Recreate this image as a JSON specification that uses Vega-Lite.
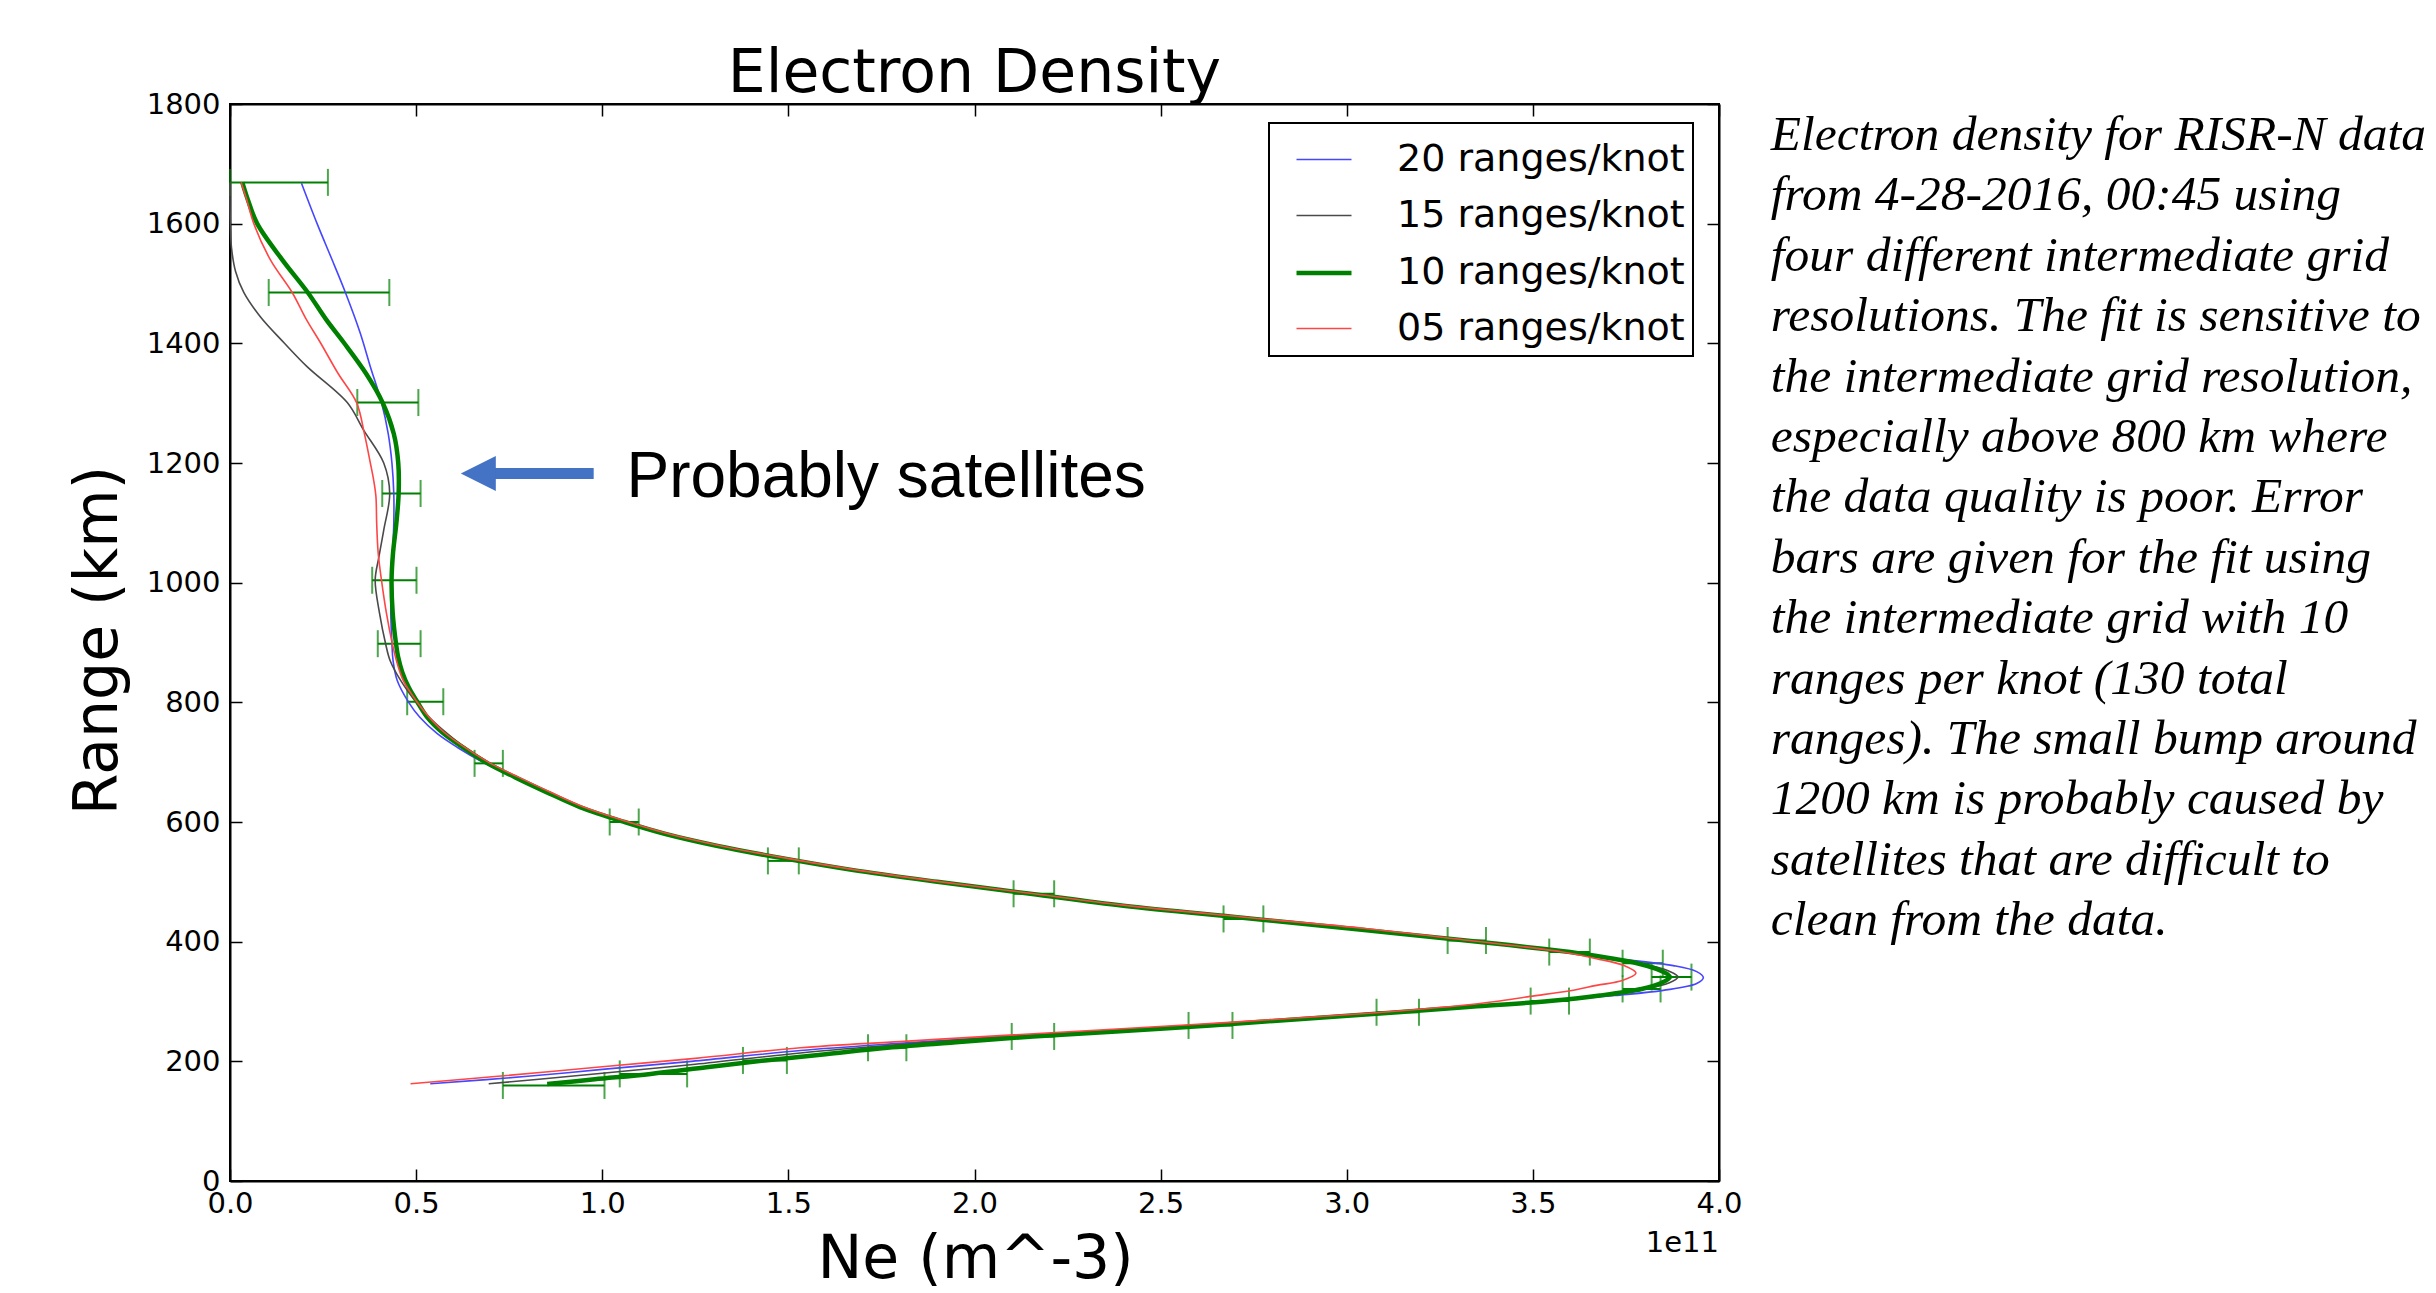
{
  "$schema": "https://vega.github.io/schema/vega-lite/v6.json",
  "width": 1489,
  "height": 1077,
  "autosize": {"type": "none"},
  "padding": {"left": 230, "top": 104, "right": 717, "bottom": 112},
  "background": "white",
  "title": {"text": "Electron Density", "font": "DejaVu Sans", "fontSize": 60, "fontWeight": "normal", "color": "black", "anchor": "middle", "baseline": "alphabetic", "offset": 13, "dy": 75},
  "config": {
    "view": {"stroke": "black", "strokeWidth": 2},
    "axis": {"domainColor": "black", "domainWidth": 2, "tickColor": "black", "tickWidth": 1.5, "tickSize": -12, "labelFont": "DejaVu Sans", "labelFontSize": 29, "labelColor": "black", "grid": false, "titleFont": "DejaVu Sans", "titleFontSize": 60, "titleFontWeight": "normal", "titleColor": "black", "labelFlush": false, "labelOverlap": false},
    "legend": {"strokeWidth": 2}
  },
  "datasets": {
    "errbars": [
      {"range": 159.7, "lo": 0.733, "hi": 1.006},
      {"range": 179, "lo": 1.047, "hi": 1.228},
      {"range": 201.5, "lo": 1.378, "hi": 1.496},
      {"range": 222.7, "lo": 1.714, "hi": 1.817},
      {"range": 241.6, "lo": 2.1, "hi": 2.214},
      {"range": 260, "lo": 2.575, "hi": 2.693},
      {"range": 282, "lo": 3.08, "hi": 3.194},
      {"range": 300.7, "lo": 3.494, "hi": 3.597},
      {"range": 321, "lo": 3.741, "hi": 3.843},
      {"range": 340.8, "lo": 3.819, "hi": 3.926},
      {"range": 364, "lo": 3.741, "hi": 3.849},
      {"range": 382.6, "lo": 3.544, "hi": 3.653},
      {"range": 402, "lo": 3.271, "hi": 3.374},
      {"range": 438, "lo": 2.669, "hi": 2.776},
      {"range": 480, "lo": 2.105, "hi": 2.214},
      {"range": 535, "lo": 1.445, "hi": 1.528},
      {"range": 600, "lo": 1.02, "hi": 1.098},
      {"range": 698, "lo": 0.657, "hi": 0.733},
      {"range": 801, "lo": 0.476, "hi": 0.573},
      {"range": 898, "lo": 0.397, "hi": 0.512},
      {"range": 1004, "lo": 0.382, "hi": 0.501},
      {"range": 1149, "lo": 0.409, "hi": 0.512},
      {"range": 1301, "lo": 0.342, "hi": 0.506},
      {"range": 1485, "lo": 0.104, "hi": 0.428},
      {"range": 1669, "lo": 0.0, "hi": 0.263}
    ],
    "profiles": [
      {"series": "20 ranges/knot", "range": 162.5, "ne": 0.538},
      {"series": "20 ranges/knot", "range": 175, "ne": 0.8},
      {"series": "20 ranges/knot", "range": 186.5, "ne": 1.0},
      {"series": "20 ranges/knot", "range": 200, "ne": 1.24},
      {"series": "20 ranges/knot", "range": 218, "ne": 1.532},
      {"series": "20 ranges/knot", "range": 230, "ne": 1.8},
      {"series": "20 ranges/knot", "range": 242, "ne": 2.1},
      {"series": "20 ranges/knot", "range": 260, "ne": 2.6},
      {"series": "20 ranges/knot", "range": 282, "ne": 3.1},
      {"series": "20 ranges/knot", "range": 300.7, "ne": 3.55},
      {"series": "20 ranges/knot", "range": 310, "ne": 3.72},
      {"series": "20 ranges/knot", "range": 318.6, "ne": 3.85},
      {"series": "20 ranges/knot", "range": 330, "ne": 3.94},
      {"series": "20 ranges/knot", "range": 340, "ne": 3.958},
      {"series": "20 ranges/knot", "range": 350, "ne": 3.94},
      {"series": "20 ranges/knot", "range": 360, "ne": 3.877},
      {"series": "20 ranges/knot", "range": 373, "ne": 3.7},
      {"series": "20 ranges/knot", "range": 382.6, "ne": 3.58},
      {"series": "20 ranges/knot", "range": 392, "ne": 3.46},
      {"series": "20 ranges/knot", "range": 402, "ne": 3.32},
      {"series": "20 ranges/knot", "range": 420, "ne": 3.04},
      {"series": "20 ranges/knot", "range": 440, "ne": 2.72},
      {"series": "20 ranges/knot", "range": 460, "ne": 2.4},
      {"series": "20 ranges/knot", "range": 480, "ne": 2.15},
      {"series": "20 ranges/knot", "range": 500, "ne": 1.9},
      {"series": "20 ranges/knot", "range": 520, "ne": 1.67},
      {"series": "20 ranges/knot", "range": 540, "ne": 1.48},
      {"series": "20 ranges/knot", "range": 560, "ne": 1.31},
      {"series": "20 ranges/knot", "range": 580, "ne": 1.17},
      {"series": "20 ranges/knot", "range": 600, "ne": 1.06},
      {"series": "20 ranges/knot", "range": 625, "ne": 0.94},
      {"series": "20 ranges/knot", "range": 650, "ne": 0.845},
      {"series": "20 ranges/knot", "range": 675, "ne": 0.76},
      {"series": "20 ranges/knot", "range": 698, "ne": 0.685},
      {"series": "20 ranges/knot", "range": 725, "ne": 0.61},
      {"series": "20 ranges/knot", "range": 748, "ne": 0.556},
      {"series": "20 ranges/knot", "range": 775, "ne": 0.51},
      {"series": "20 ranges/knot", "range": 800, "ne": 0.48},
      {"series": "20 ranges/knot", "range": 837, "ne": 0.449},
      {"series": "20 ranges/knot", "range": 870, "ne": 0.438},
      {"series": "20 ranges/knot", "range": 898, "ne": 0.435},
      {"series": "20 ranges/knot", "range": 950, "ne": 0.432},
      {"series": "20 ranges/knot", "range": 1004, "ne": 0.434},
      {"series": "20 ranges/knot", "range": 1050, "ne": 0.437},
      {"series": "20 ranges/knot", "range": 1100, "ne": 0.44},
      {"series": "20 ranges/knot", "range": 1149, "ne": 0.44},
      {"series": "20 ranges/knot", "range": 1200, "ne": 0.435},
      {"series": "20 ranges/knot", "range": 1249, "ne": 0.425},
      {"series": "20 ranges/knot", "range": 1301, "ne": 0.407},
      {"series": "20 ranges/knot", "range": 1361, "ne": 0.377},
      {"series": "20 ranges/knot", "range": 1417, "ne": 0.35},
      {"series": "20 ranges/knot", "range": 1485, "ne": 0.31},
      {"series": "20 ranges/knot", "range": 1540, "ne": 0.274},
      {"series": "20 ranges/knot", "range": 1600, "ne": 0.234},
      {"series": "20 ranges/knot", "range": 1667.5, "ne": 0.192},

      {"series": "15 ranges/knot", "range": 162.5, "ne": 0.695},
      {"series": "15 ranges/knot", "range": 170, "ne": 0.83},
      {"series": "15 ranges/knot", "range": 180, "ne": 1.0},
      {"series": "15 ranges/knot", "range": 195, "ne": 1.25},
      {"series": "15 ranges/knot", "range": 214, "ne": 1.532},
      {"series": "15 ranges/knot", "range": 228, "ne": 1.8},
      {"series": "15 ranges/knot", "range": 241, "ne": 2.069},
      {"series": "15 ranges/knot", "range": 260, "ne": 2.62},
      {"series": "15 ranges/knot", "range": 282, "ne": 3.13},
      {"series": "15 ranges/knot", "range": 300.7, "ne": 3.545},
      {"series": "15 ranges/knot", "range": 310, "ne": 3.68},
      {"series": "15 ranges/knot", "range": 321, "ne": 3.8},
      {"series": "15 ranges/knot", "range": 331, "ne": 3.865},
      {"series": "15 ranges/knot", "range": 341, "ne": 3.89},
      {"series": "15 ranges/knot", "range": 351, "ne": 3.865},
      {"series": "15 ranges/knot", "range": 364, "ne": 3.79},
      {"series": "15 ranges/knot", "range": 373, "ne": 3.7},
      {"series": "15 ranges/knot", "range": 382.6, "ne": 3.6},
      {"series": "15 ranges/knot", "range": 392, "ne": 3.47},
      {"series": "15 ranges/knot", "range": 402, "ne": 3.32},
      {"series": "15 ranges/knot", "range": 420, "ne": 3.04},
      {"series": "15 ranges/knot", "range": 440, "ne": 2.72},
      {"series": "15 ranges/knot", "range": 460, "ne": 2.4},
      {"series": "15 ranges/knot", "range": 480, "ne": 2.15},
      {"series": "15 ranges/knot", "range": 500, "ne": 1.9},
      {"series": "15 ranges/knot", "range": 520, "ne": 1.67},
      {"series": "15 ranges/knot", "range": 540, "ne": 1.48},
      {"series": "15 ranges/knot", "range": 560, "ne": 1.31},
      {"series": "15 ranges/knot", "range": 580, "ne": 1.17},
      {"series": "15 ranges/knot", "range": 600, "ne": 1.065},
      {"series": "15 ranges/knot", "range": 625, "ne": 0.945},
      {"series": "15 ranges/knot", "range": 650, "ne": 0.85},
      {"series": "15 ranges/knot", "range": 675, "ne": 0.77},
      {"series": "15 ranges/knot", "range": 698, "ne": 0.7},
      {"series": "15 ranges/knot", "range": 725, "ne": 0.63},
      {"series": "15 ranges/knot", "range": 748, "ne": 0.583},
      {"series": "15 ranges/knot", "range": 775, "ne": 0.535},
      {"series": "15 ranges/knot", "range": 800, "ne": 0.5},
      {"series": "15 ranges/knot", "range": 837, "ne": 0.458},
      {"series": "15 ranges/knot", "range": 870, "ne": 0.43},
      {"series": "15 ranges/knot", "range": 898, "ne": 0.418},
      {"series": "15 ranges/knot", "range": 948, "ne": 0.402},
      {"series": "15 ranges/knot", "range": 1004, "ne": 0.39},
      {"series": "15 ranges/knot", "range": 1043, "ne": 0.4},
      {"series": "15 ranges/knot", "range": 1088, "ne": 0.413},
      {"series": "15 ranges/knot", "range": 1149, "ne": 0.429},
      {"series": "15 ranges/knot", "range": 1200, "ne": 0.413},
      {"series": "15 ranges/knot", "range": 1255, "ne": 0.359},
      {"series": "15 ranges/knot", "range": 1301, "ne": 0.315},
      {"series": "15 ranges/knot", "range": 1361, "ne": 0.207},
      {"series": "15 ranges/knot", "range": 1401, "ne": 0.145},
      {"series": "15 ranges/knot", "range": 1444, "ne": 0.082},
      {"series": "15 ranges/knot", "range": 1485, "ne": 0.037},
      {"series": "15 ranges/knot", "range": 1520, "ne": 0.015},
      {"series": "15 ranges/knot", "range": 1560, "ne": 0.004},
      {"series": "15 ranges/knot", "range": 1600, "ne": 0.001},
      {"series": "15 ranges/knot", "range": 1669, "ne": 0.0},

      {"series": "10 ranges/knot", "range": 162, "ne": 0.852},
      {"series": "10 ranges/knot", "range": 170, "ne": 0.98},
      {"series": "10 ranges/knot", "range": 179, "ne": 1.13},
      {"series": "10 ranges/knot", "range": 190, "ne": 1.28},
      {"series": "10 ranges/knot", "range": 201.5, "ne": 1.437},
      {"series": "10 ranges/knot", "range": 212, "ne": 1.6},
      {"series": "10 ranges/knot", "range": 222.7, "ne": 1.766},
      {"series": "10 ranges/knot", "range": 232, "ne": 1.95},
      {"series": "10 ranges/knot", "range": 241.6, "ne": 2.157},
      {"series": "10 ranges/knot", "range": 250, "ne": 2.38},
      {"series": "10 ranges/knot", "range": 260, "ne": 2.634},
      {"series": "10 ranges/knot", "range": 270, "ne": 2.86},
      {"series": "10 ranges/knot", "range": 282, "ne": 3.137},
      {"series": "10 ranges/knot", "range": 292, "ne": 3.35},
      {"series": "10 ranges/knot", "range": 300.7, "ne": 3.545},
      {"series": "10 ranges/knot", "range": 310, "ne": 3.68},
      {"series": "10 ranges/knot", "range": 321, "ne": 3.792},
      {"series": "10 ranges/knot", "range": 331, "ne": 3.845},
      {"series": "10 ranges/knot", "range": 341, "ne": 3.868},
      {"series": "10 ranges/knot", "range": 351, "ne": 3.845},
      {"series": "10 ranges/knot", "range": 364, "ne": 3.78},
      {"series": "10 ranges/knot", "range": 373, "ne": 3.7},
      {"series": "10 ranges/knot", "range": 382.6, "ne": 3.6},
      {"series": "10 ranges/knot", "range": 392, "ne": 3.47},
      {"series": "10 ranges/knot", "range": 402, "ne": 3.32},
      {"series": "10 ranges/knot", "range": 420, "ne": 3.04},
      {"series": "10 ranges/knot", "range": 440, "ne": 2.72},
      {"series": "10 ranges/knot", "range": 460, "ne": 2.4},
      {"series": "10 ranges/knot", "range": 480, "ne": 2.15},
      {"series": "10 ranges/knot", "range": 500, "ne": 1.9},
      {"series": "10 ranges/knot", "range": 520, "ne": 1.67},
      {"series": "10 ranges/knot", "range": 540, "ne": 1.48},
      {"series": "10 ranges/knot", "range": 560, "ne": 1.31},
      {"series": "10 ranges/knot", "range": 580, "ne": 1.17},
      {"series": "10 ranges/knot", "range": 600, "ne": 1.06},
      {"series": "10 ranges/knot", "range": 625, "ne": 0.94},
      {"series": "10 ranges/knot", "range": 650, "ne": 0.85},
      {"series": "10 ranges/knot", "range": 675, "ne": 0.765},
      {"series": "10 ranges/knot", "range": 698, "ne": 0.692},
      {"series": "10 ranges/knot", "range": 725, "ne": 0.625},
      {"series": "10 ranges/knot", "range": 750, "ne": 0.57},
      {"series": "10 ranges/knot", "range": 775, "ne": 0.53},
      {"series": "10 ranges/knot", "range": 801, "ne": 0.503},
      {"series": "10 ranges/knot", "range": 825, "ne": 0.48},
      {"series": "10 ranges/knot", "range": 850, "ne": 0.463},
      {"series": "10 ranges/knot", "range": 875, "ne": 0.452},
      {"series": "10 ranges/knot", "range": 898, "ne": 0.446},
      {"series": "10 ranges/knot", "range": 950, "ne": 0.437},
      {"series": "10 ranges/knot", "range": 1004, "ne": 0.434},
      {"series": "10 ranges/knot", "range": 1050, "ne": 0.438},
      {"series": "10 ranges/knot", "range": 1100, "ne": 0.447},
      {"series": "10 ranges/knot", "range": 1149, "ne": 0.453},
      {"series": "10 ranges/knot", "range": 1200, "ne": 0.452},
      {"series": "10 ranges/knot", "range": 1249, "ne": 0.44},
      {"series": "10 ranges/knot", "range": 1301, "ne": 0.41},
      {"series": "10 ranges/knot", "range": 1350, "ne": 0.365},
      {"series": "10 ranges/knot", "range": 1401, "ne": 0.306},
      {"series": "10 ranges/knot", "range": 1440, "ne": 0.258},
      {"series": "10 ranges/knot", "range": 1485, "ne": 0.209},
      {"series": "10 ranges/knot", "range": 1540, "ne": 0.14},
      {"series": "10 ranges/knot", "range": 1600, "ne": 0.073},
      {"series": "10 ranges/knot", "range": 1640, "ne": 0.048},
      {"series": "10 ranges/knot", "range": 1669, "ne": 0.033},

      {"series": "05 ranges/knot", "range": 162.5, "ne": 0.485},
      {"series": "05 ranges/knot", "range": 175, "ne": 0.72},
      {"series": "05 ranges/knot", "range": 191, "ne": 1.0},
      {"series": "05 ranges/knot", "range": 205, "ne": 1.25},
      {"series": "05 ranges/knot", "range": 222.7, "ne": 1.532},
      {"series": "05 ranges/knot", "range": 233, "ne": 1.8},
      {"series": "05 ranges/knot", "range": 243, "ne": 2.069},
      {"series": "05 ranges/knot", "range": 262, "ne": 2.6},
      {"series": "05 ranges/knot", "range": 280, "ne": 3.05},
      {"series": "05 ranges/knot", "range": 293, "ne": 3.3},
      {"series": "05 ranges/knot", "range": 300, "ne": 3.4},
      {"series": "05 ranges/knot", "range": 308.5, "ne": 3.492},
      {"series": "05 ranges/knot", "range": 318, "ne": 3.6},
      {"series": "05 ranges/knot", "range": 327, "ne": 3.671},
      {"series": "05 ranges/knot", "range": 335, "ne": 3.74},
      {"series": "05 ranges/knot", "range": 347.5, "ne": 3.777},
      {"series": "05 ranges/knot", "range": 360, "ne": 3.745},
      {"series": "05 ranges/knot", "range": 371.6, "ne": 3.671},
      {"series": "05 ranges/knot", "range": 382.6, "ne": 3.58},
      {"series": "05 ranges/knot", "range": 392, "ne": 3.47},
      {"series": "05 ranges/knot", "range": 402, "ne": 3.33},
      {"series": "05 ranges/knot", "range": 422, "ne": 3.05},
      {"series": "05 ranges/knot", "range": 440, "ne": 2.74},
      {"series": "05 ranges/knot", "range": 461, "ne": 2.4},
      {"series": "05 ranges/knot", "range": 480, "ne": 2.16},
      {"series": "05 ranges/knot", "range": 500, "ne": 1.91},
      {"series": "05 ranges/knot", "range": 520, "ne": 1.68},
      {"series": "05 ranges/knot", "range": 540, "ne": 1.49},
      {"series": "05 ranges/knot", "range": 560, "ne": 1.32},
      {"series": "05 ranges/knot", "range": 580, "ne": 1.18},
      {"series": "05 ranges/knot", "range": 600, "ne": 1.07},
      {"series": "05 ranges/knot", "range": 625, "ne": 0.95},
      {"series": "05 ranges/knot", "range": 650, "ne": 0.86},
      {"series": "05 ranges/knot", "range": 675, "ne": 0.775},
      {"series": "05 ranges/knot", "range": 698, "ne": 0.7},
      {"series": "05 ranges/knot", "range": 725, "ne": 0.63},
      {"series": "05 ranges/knot", "range": 750, "ne": 0.575},
      {"series": "05 ranges/knot", "range": 775, "ne": 0.535},
      {"series": "05 ranges/knot", "range": 800, "ne": 0.503},
      {"series": "05 ranges/knot", "range": 837, "ne": 0.465},
      {"series": "05 ranges/knot", "range": 870, "ne": 0.447},
      {"series": "05 ranges/knot", "range": 898, "ne": 0.436},
      {"series": "05 ranges/knot", "range": 950, "ne": 0.42},
      {"series": "05 ranges/knot", "range": 1004, "ne": 0.407},
      {"series": "05 ranges/knot", "range": 1050, "ne": 0.398},
      {"series": "05 ranges/knot", "range": 1100, "ne": 0.394},
      {"series": "05 ranges/knot", "range": 1144, "ne": 0.392},
      {"series": "05 ranges/knot", "range": 1171, "ne": 0.386},
      {"series": "05 ranges/knot", "range": 1200, "ne": 0.377},
      {"series": "05 ranges/knot", "range": 1249, "ne": 0.361},
      {"series": "05 ranges/knot", "range": 1301, "ne": 0.34},
      {"series": "05 ranges/knot", "range": 1350, "ne": 0.29},
      {"series": "05 ranges/knot", "range": 1401, "ne": 0.243},
      {"series": "05 ranges/knot", "range": 1440, "ne": 0.205},
      {"series": "05 ranges/knot", "range": 1485, "ne": 0.167},
      {"series": "05 ranges/knot", "range": 1539, "ne": 0.109},
      {"series": "05 ranges/knot", "range": 1600, "ne": 0.064},
      {"series": "05 ranges/knot", "range": 1640, "ne": 0.045},
      {"series": "05 ranges/knot", "range": 1669, "ne": 0.03}
    ]
  },
  "resolve": {"axis": {"x": "independent", "y": "independent"}},
  "layer": [
    {
      "data": {"name": "errbars"},
      "mark": {"type": "rule", "color": "#008000", "strokeWidth": 2},
      "encoding": {
        "x": {"field": "lo", "type": "quantitative", "scale": {"domain": [0, 4], "nice": false, "zero": false},
              "axis": {"orient": "bottom", "title": "Ne (m^-3)", "values": [0, 0.5, 1, 1.5, 2, 2.5, 3, 3.5, 4], "format": ".1f", "labelPadding": 20, "titleX": 745, "titleY": 96, "titleBaseline": "alphabetic"}},
        "x2": {"field": "hi"},
        "y": {"field": "range", "type": "quantitative", "scale": {"domain": [0, 1800], "nice": false, "zero": false},
              "axis": {"orient": "left", "title": "Range (km)", "values": [0, 200, 400, 600, 800, 1000, 1200, 1400, 1600, 1800], "format": "d", "labelPadding": 22, "titleX": -114, "titleY": 536, "titleBaseline": "alphabetic", "titleAngle": -90}}
      }
    },
    {
      "data": {"name": "errbars"},
      "mark": {"type": "tick", "orient": "vertical", "size": 27, "thickness": 2, "color": "#008000"},
      "encoding": {
        "x": {"field": "lo", "type": "quantitative", "axis": {"orient": "top", "labels": false, "title": null, "values": [0, 0.5, 1, 1.5, 2, 2.5, 3, 3.5, 4]}},
        "y": {"field": "range", "type": "quantitative", "axis": {"orient": "right", "labels": false, "title": null, "values": [0, 200, 400, 600, 800, 1000, 1200, 1400, 1600, 1800]}}
      }
    },
    {
      "data": {"name": "errbars"},
      "mark": {"type": "tick", "orient": "vertical", "size": 27, "thickness": 2, "color": "#008000"},
      "encoding": {
        "x": {"field": "hi", "type": "quantitative", "axis": null},
        "y": {"field": "range", "type": "quantitative", "axis": null}
      }
    },
    {
      "data": {"name": "profiles"},
      "mark": {"type": "line", "interpolate": "catmull-rom"},
      "encoding": {
        "x": {"field": "ne", "type": "quantitative", "axis": null},
        "y": {"field": "range", "type": "quantitative", "axis": null},
        "order": {"field": "range", "type": "quantitative"},
        "color": {"field": "series", "type": "nominal",
                  "scale": {"domain": ["20 ranges/knot", "15 ranges/knot", "10 ranges/knot", "05 ranges/knot"], "range": ["#4646ff", "#4a4a4a", "#008000", "#ff4646"]},
                  "legend": {"orient": "none", "legendX": 1039, "legendY": 19, "title": null, "labelFont": "DejaVu Sans", "labelFontSize": 38, "labelColor": "black", "labelLimit": 600, "symbolType": "stroke", "symbolSize": 3025, "strokeColor": "black", "fillColor": "white", "padding": 8, "rowPadding": 8, "labelOffset": 43, "symbolOffset": 17,
                             "encode": {"symbols": {"update": {"strokeWidth": {"signal": "datum.value === '10 ranges/knot' ? 4.5 : 1.6"}}}}}},
        "strokeWidth": {"field": "series", "type": "nominal", "legend": null,
                  "scale": {"type": "ordinal", "domain": ["20 ranges/knot", "15 ranges/knot", "10 ranges/knot", "05 ranges/knot"], "range": [1.6, 1.6, 4.5, 1.6]}}
      }
    },
    {
      "data": {"values": [{"part": "arrow shaft"}]},
      "mark": {"type": "rule", "color": "#4472C4", "strokeWidth": 11, "strokeCap": "butt"},
      "encoding": {
        "x": {"datum": 0.7, "type": "quantitative", "axis": null},
        "x2": {"datum": 0.977},
        "y": {"datum": 1182.6, "type": "quantitative", "axis": null}
      }
    },
    {
      "data": {"values": [{"part": "arrow head"}]},
      "mark": {"type": "point", "shape": "M-1,0L1,-1L1,1Z", "size": 1225, "filled": true, "color": "#4472C4", "opacity": 1, "strokeWidth": 0},
      "encoding": {
        "x": {"datum": 0.667, "type": "quantitative", "axis": null},
        "y": {"datum": 1182.6, "type": "quantitative", "axis": null}
      }
    },
    {
      "data": {"values": [{"label": "Probably satellites"}]},
      "mark": {"type": "text", "font": "Liberation Sans", "fontSize": 64, "color": "black", "align": "left", "baseline": "alphabetic"},
      "encoding": {
        "x": {"datum": 1.065, "type": "quantitative", "axis": null},
        "y": {"datum": 1143, "type": "quantitative", "axis": null},
        "text": {"field": "label"}
      }
    },
    {
      "data": {"values": [{"label": "1e11"}]},
      "mark": {"type": "text", "font": "DejaVu Sans", "fontSize": 29, "color": "black", "align": "right", "baseline": "alphabetic"},
      "encoding": {
        "x": {"datum": 4.0, "type": "quantitative", "axis": null},
        "y": {"datum": -118, "type": "quantitative", "axis": null},
        "text": {"field": "label"}
      }
    },
    {
      "data": {"values": [{"caption": "Electron density for RISR-N data\nfrom 4-28-2016, 00:45 using\nfour different intermediate grid\nresolutions. The fit is sensitive to\nthe intermediate grid resolution,\nespecially above 800 km where\nthe data quality is poor. Error\nbars are given for the fit using\nthe intermediate grid with 10\nranges per knot (130 total\nranges). The small bump around\n1200 km is probably caused by\nsatellites that are difficult to\nclean from the data."}]},
      "mark": {"type": "text", "font": "Liberation Serif", "fontStyle": "italic", "fontSize": 49.5, "lineHeight": 60.4, "lineBreak": "\n", "color": "black", "align": "left", "baseline": "alphabetic"},
      "encoding": {
        "x": {"datum": 4.139, "type": "quantitative", "axis": null},
        "y": {"datum": 1723, "type": "quantitative", "axis": null},
        "text": {"field": "caption"}
      }
    }
  ]
}
